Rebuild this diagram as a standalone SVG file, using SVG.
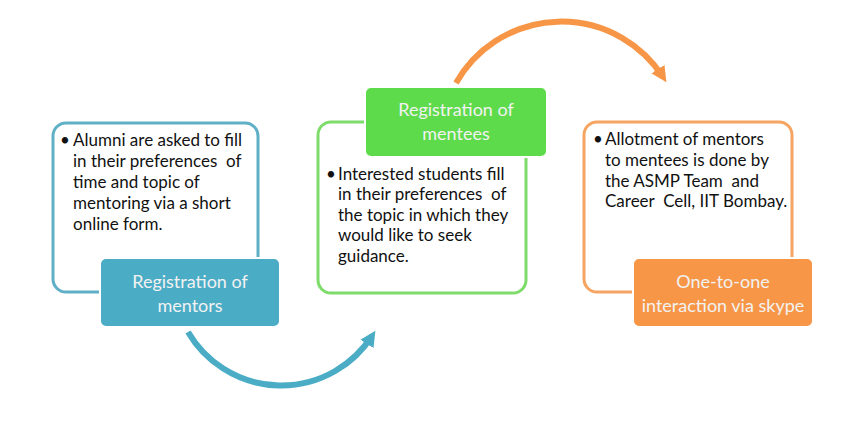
<svg xmlns="http://www.w3.org/2000/svg" width="861" height="426" viewBox="0 0 861 426">
<style>
.body{font-family:Lato,"Open Sans","Liberation Sans",sans-serif;font-size:17px;fill:#111}
.head{font-family:Lato,"Open Sans","Liberation Sans",sans-serif;font-size:18px;fill:#F2F2F2;text-anchor:middle}
.outline{fill:#fff;stroke-width:3}
</style>
<defs>
<marker id="hb" viewBox="0 0 10 10" refX="6" refY="5" markerWidth="2.6" markerHeight="2.8" orient="auto" markerUnits="strokeWidth"><path d="M0,0 L10,5 L0,10 Z" fill="#4BACC6"/></marker>
<marker id="ho" viewBox="0 0 10 10" refX="6" refY="5" markerWidth="2.6" markerHeight="2.8" orient="auto" markerUnits="strokeWidth"><path d="M0,0 L10,5 L0,10 Z" fill="#F79646"/></marker>
</defs>
<rect width="861" height="426" fill="#fff"/>
<g id="connectors" fill="none" stroke-width="6">
<path d="M188,332 A108,108 0 0 0 372,336" stroke="#4BACC6" marker-end="url(#hb)"/>
<path d="M456,83 A121,121 0 0 1 663,77" stroke="#F79646" marker-end="url(#ho)"/>
</g>
<g id="mentors">
<rect class="outline" x="53" y="123" width="205" height="169" rx="13" stroke="#5FAFC6"/>
<text class="body"><tspan x="60" y="146">•</tspan><tspan x="73" y="146">Alumni are asked to fill</tspan><tspan x="73" y="167">in their preferences&#160; of</tspan><tspan x="73" y="188">time and topic of</tspan><tspan x="73" y="209">mentoring via a short</tspan><tspan x="73" y="230">online form.</tspan></text>
<rect x="100" y="258" width="180" height="69" rx="6" fill="#4BACC6" stroke="#fff" stroke-width="2"/>
<text class="head"><tspan x="190" y="288">Registration of</tspan><tspan x="190" y="312">mentors</tspan></text>
</g>
<g id="mentees">
<rect class="outline" x="318" y="122" width="208" height="171" rx="13" stroke="#7DDC6A"/>
<rect x="365" y="87" width="182" height="70" rx="6" fill="#5EDB4A" stroke="#fff" stroke-width="2"/>
<text class="head"><tspan x="456" y="116">Registration of</tspan><tspan x="456" y="140">mentees</tspan></text>
<text class="body"><tspan x="326" y="180">•</tspan><tspan x="338" y="180">Interested students fill</tspan><tspan x="338" y="200">in their preferences&#160; of</tspan><tspan x="338" y="221">the topic in which they</tspan><tspan x="338" y="241">would like to seek</tspan><tspan x="338" y="262">guidance.</tspan></text>
</g>
<g id="interaction">
<rect class="outline" x="584" y="122" width="208" height="170" rx="13" stroke="#F6A462"/>
<text class="body"><tspan x="593" y="145">•</tspan><tspan x="605" y="145">Allotment of mentors</tspan><tspan x="605" y="166">to mentees is done by</tspan><tspan x="605" y="187">the ASMP Team&#160; and</tspan><tspan x="605" y="207">Career&#160; Cell, IIT Bombay.</tspan></text>
<rect x="633" y="258" width="180" height="69" rx="6" fill="#F79646" stroke="#fff" stroke-width="2"/>
<text class="head"><tspan x="723" y="288">One-to-one</tspan><tspan x="723" y="312">interaction via skype</tspan></text>
</g>
</svg>
